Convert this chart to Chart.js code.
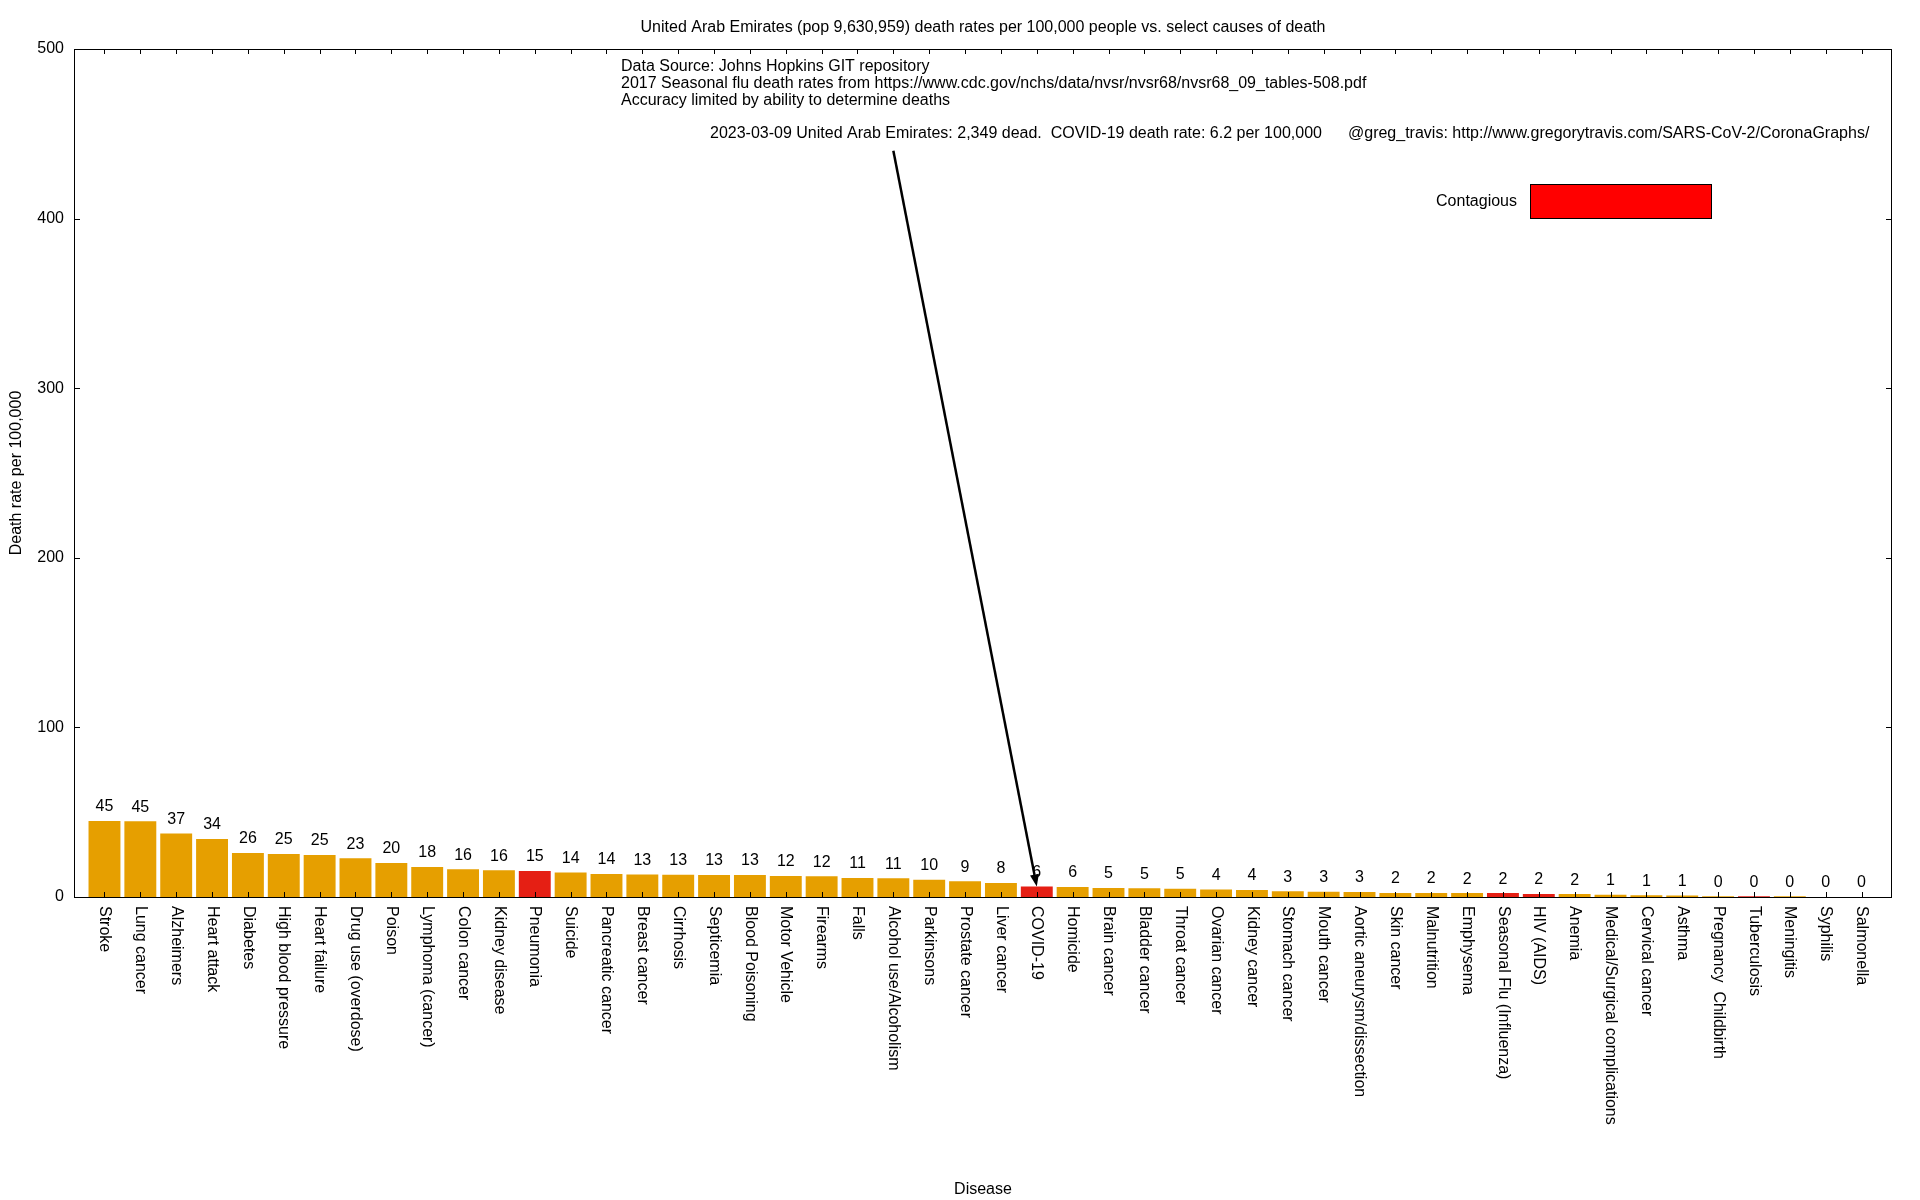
<!DOCTYPE html>
<html>
<head>
<meta charset="utf-8">
<script src="https://cdn.jsdelivr.net/npm/chart.js@4"></script>
<style>
  html, body { margin: 0; padding: 0; background: #fff; }
  #wrap { width: 1920px; height: 1200px; }
</style>
</head>
<body>
<div id="wrap"><canvas id="chart"></canvas></div>
<script>
var causes = ['Stroke', 'Lung cancer', 'Alzheimers', 'Heart attack', 'Diabetes', 'High blood pressure',
  'Heart failure', 'Drug use (overdose)', 'Poison', 'Lymphoma (cancer)', 'Colon cancer', 'Kidney disease',
  'Pneumonia', 'Suicide', 'Pancreatic cancer', 'Breast cancer', 'Cirrhosis', 'Septicemia', 'Blood Poisoning',
  'Motor Vehicle', 'Firearms', 'Falls', 'Alcohol use/Alcoholism', 'Parkinsons', 'Prostate cancer',
  'Liver cancer', 'COVID-19', 'Homicide', 'Brain cancer', 'Bladder cancer', 'Throat cancer', 'Ovarian cancer',
  'Kidney cancer', 'Stomach cancer', 'Mouth cancer', 'Aortic aneurysm/dissection', 'Skin cancer',
  'Malnutrition', 'Emphysema', 'Seasonal Flu (Influenza)', 'HIV (AIDS)', 'Anemia',
  'Medical/Surgical complications', 'Cervical cancer', 'Asthma', 'Pregnancy  Childbirth', 'Tuberculosis',
  'Meningitis', 'Syphilis', 'Salmonella'];

var rates = [44.8, 44.7, 37.4, 34.2, 25.9, 25.4, 24.8, 22.9, 20.1, 17.7, 16.3, 15.8,
  15.3, 14.4, 13.6, 13.2, 13.1, 13.0, 13.0, 12.4, 12.3, 11.2, 11.1, 10.1, 9.3,
  8.2, 6.2, 5.9, 5.3, 5.2, 4.9, 4.4, 4.1, 3.4, 3.1, 3.0, 2.4,
  2.4, 2.3, 2.3, 1.8, 1.7, 1.4, 1.0, 0.9, 0.4, 0.4,
  0.4, 0.0, 0.0];

var contagious = ['Pneumonia', 'COVID-19', 'Seasonal Flu (Influenza)', 'HIV (AIDS)', 'Tuberculosis'];

var yTicks = [0, 100, 200, 300, 400, 500];

var covidIndex = causes.indexOf('COVID-19');
var arrowFrom = { x: 22, y: 440 };

var FONT = '"Liberation Sans", Arial, Helvetica, sans-serif';
var ORANGE = '#e69f00';
var RED = '#e51f14';

var barColors = causes.map(function (c) {
  return contagious.indexOf(c) >= 0 ? RED : ORANGE;
});

// gnuplot style frame, inward tics, labels and notes
var decorations = {
  id: 'decorations',
  afterDatasetsDraw: function (chart) {
    var ctx = chart.ctx;
    var area = chart.chartArea;
    var xs = chart.scales.x;
    var ys = chart.scales.y;
    var meta = chart.getDatasetMeta(0);

    ctx.save();
    ctx.fillStyle = '#000';
    ctx.strokeStyle = '#000';
    ctx.lineWidth = 1;

    // frame
    ctx.strokeRect(area.left + 0.5, area.top + 0.5, area.right - area.left - 1, area.bottom - area.top);

    // tics
    ctx.beginPath();
    yTicks.forEach(function (v) {
      var py = Math.round(ys.getPixelForValue(v)) + 0.5;
      ctx.moveTo(area.left, py); ctx.lineTo(area.left + 6, py);
      ctx.moveTo(area.right, py); ctx.lineTo(area.right - 6, py);
    });
    causes.forEach(function (c, i) {
      var px = Math.round(xs.getPixelForValue(i)) + 0.5;
      ctx.moveTo(px, area.bottom); ctx.lineTo(px, area.bottom - 5);
      ctx.moveTo(px, area.top); ctx.lineTo(px, area.top + 5);
    });
    ctx.stroke();

    ctx.font = '16px ' + FONT;

    // value labels over bars
    ctx.textAlign = 'center';
    ctx.textBaseline = 'middle';
    meta.data.forEach(function (bar, i) {
      ctx.fillText(String(Math.round(rates[i])), bar.x, bar.y - 14);
    });

    // category labels, rotated to read downward
    ctx.textAlign = 'left';
    causes.forEach(function (c, i) {
      ctx.save();
      ctx.translate(xs.getPixelForValue(i), area.bottom + 9);
      ctx.rotate(Math.PI / 2);
      ctx.fillText(c, 0, 0);
      ctx.restore();
    });

    // title and notes
    ctx.textBaseline = 'alphabetic';
    ctx.textAlign = 'center';
    ctx.fillText('United Arab Emirates (pop 9,630,959) death rates per 100,000 people vs. select causes of death',
      (area.left + area.right) / 2, 31.5);

    ctx.textAlign = 'left';
    ctx.fillText('Data Source: Johns Hopkins GIT repository', area.left + 547, 71);
    ctx.fillText('2017 Seasonal flu death rates from https://www.cdc.gov/nchs/data/nvsr/nvsr68/nvsr68_09_tables-508.pdf', area.left + 547, 88);
    ctx.fillText('Accuracy limited by ability to determine deaths', area.left + 547, 104.5);
    ctx.fillText('2023-03-09 United Arab Emirates: 2,349 dead.  COVID-19 death rate: 6.2 per 100,000', area.left + 636, 138);
    ctx.fillText('@greg_travis: http://www.gregorytravis.com/SARS-CoV-2/CoronaGraphs/', area.left + 1274, 138);

    // legend
    ctx.textAlign = 'right';
    ctx.fillText('Contagious', area.right - 375, 206);
    ctx.fillStyle = '#ff0000';
    ctx.fillRect(area.right - 362, 184, 181, 34);
    ctx.strokeRect(area.right - 362 + 0.5, 184.5, 181, 34);

    // arrow to the COVID-19 bar
    var x0 = xs.getPixelForValue(arrowFrom.x), y0 = ys.getPixelForValue(arrowFrom.y);
    var x1 = xs.getPixelForValue(covidIndex), y1 = ys.getPixelForValue(rates[covidIndex]);
    var ang = Math.atan2(y1 - y0, x1 - x0);
    var headLen = 12, headW = 4.5;
    var bx = x1 - headLen * Math.cos(ang), by = y1 - headLen * Math.sin(ang);
    ctx.lineWidth = 2.5;
    ctx.beginPath();
    ctx.moveTo(x0, y0);
    ctx.lineTo(bx, by);
    ctx.stroke();
    ctx.fillStyle = '#000';
    ctx.beginPath();
    ctx.moveTo(x1, y1);
    ctx.lineTo(bx + headW * Math.sin(ang), by - headW * Math.cos(ang));
    ctx.lineTo(bx - headW * Math.sin(ang), by + headW * Math.cos(ang));
    ctx.closePath();
    ctx.fill();

    ctx.restore();
  }
};

var ctx = document.getElementById('chart').getContext('2d');

var chart = new Chart(ctx, {
  type: 'bar',
  data: {
    datasets: [{
      label: 'Death rate',
      data: causes.map(function (c, i) { return { x: i, y: rates[i] }; }),
      backgroundColor: barColors,
      borderWidth: 0,
      barPercentage: 0.89,
      categoryPercentage: 1.0
    }]
  },
  options: {
    responsive: true,
    maintainAspectRatio: false,
    animation: false,
    devicePixelRatio: 1,
    layout: { padding: { left: 0, right: 28, top: 49, bottom: 0 } },
    plugins: {
      legend: { display: false },
      tooltip: { enabled: false },
      title: { display: false }
    },
    scales: {
      x: {
        type: 'linear',
        min: -0.85,
        max: 49.85,
        offset: false,
        afterBuildTicks: function (scale) {
          // one tick per cause, so bar width follows the category spacing
          scale.ticks = causes.map(function (c, i) { return { value: i }; });
        },
        grid: { display: false, drawTicks: false, offset: false },
        border: { display: false },
        ticks: { display: false },
        title: {
          display: true,
          text: 'Disease',
          color: '#000',
          font: { family: FONT, size: 16 },
          padding: { top: 0, bottom: 1 }
        },
        afterFit: function (scale) { scale.height = 303; }
      },
      y: {
        min: 0,
        max: 500,
        afterBuildTicks: function (scale) {
          scale.ticks = yTicks.map(function (v) { return { value: v }; });
        },
        grid: { display: false, drawTicks: false },
        border: { display: false },
        ticks: {
          color: '#000',
          padding: 10,
          font: { family: FONT, size: 16 }
        },
        title: {
          display: true,
          text: 'Death rate per 100,000',
          color: '#000',
          font: { family: FONT, size: 16 },
          padding: { top: 7, bottom: 0 }
        },
        afterFit: function (scale) { scale.width = 74; }
      }
    }
  },
  plugins: [decorations]
});
</script>
</body>
</html>
